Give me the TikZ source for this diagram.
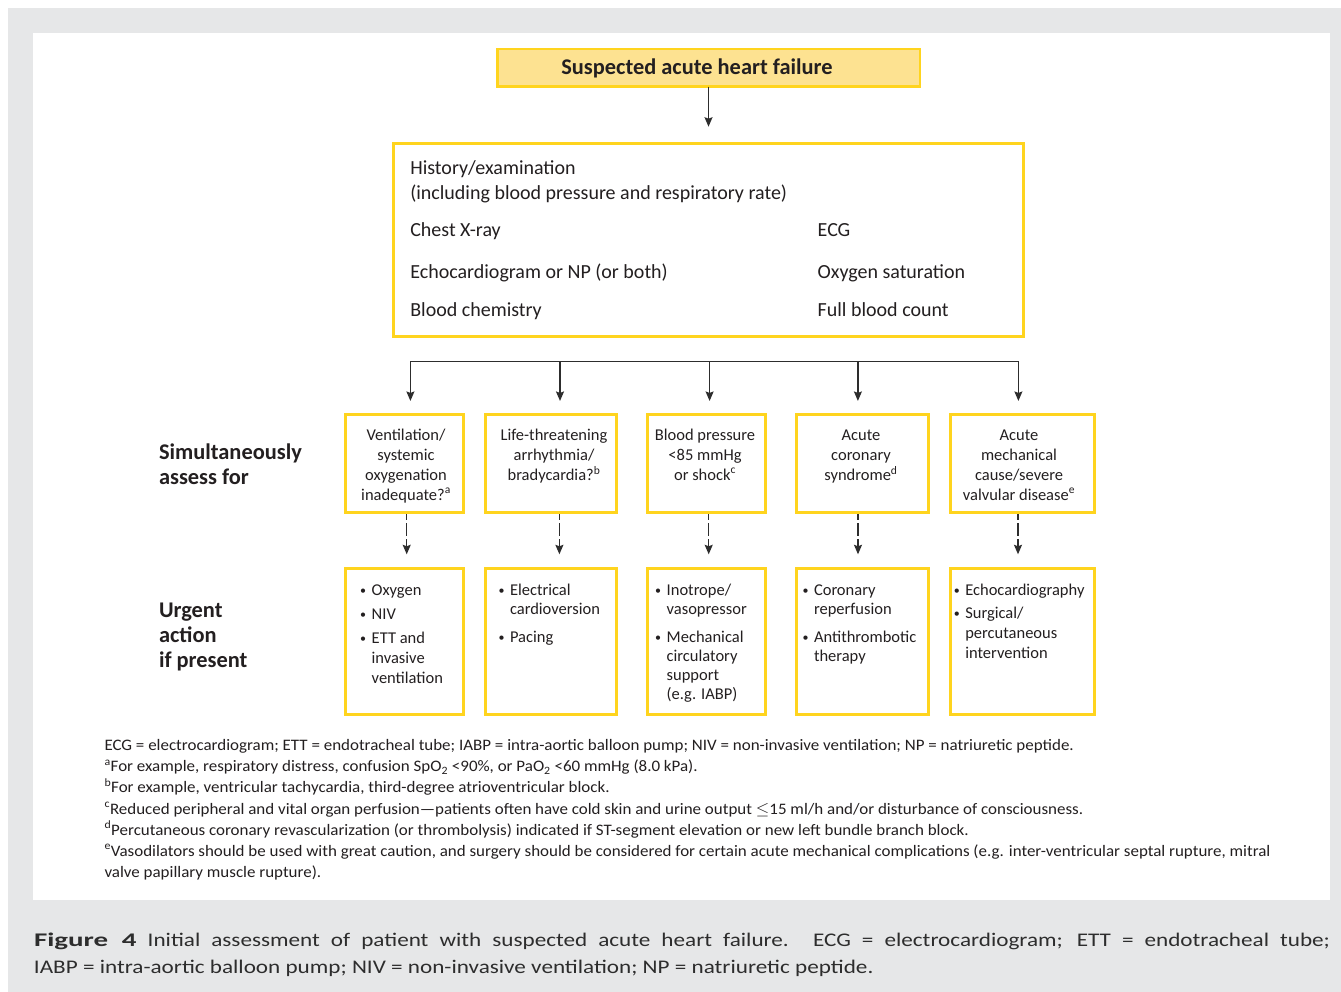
\documentclass[tikz,border=0pt]{standalone}
\usepackage{fontspec}
\setmainfont{Carlito}
\newfontfamily\capfont[FakeStretch=1.2]{Carlito}
\newfontfamily\figfont[FakeStretch=1.5]{Carlito}
\newfontfamily\notefont[FakeStretch=1.06]{Carlito}
\usetikzlibrary{arrows.meta}
\definecolor{ybord}{RGB}{255,212,30}
\definecolor{yfill}{RGB}{253,226,145}
\definecolor{bggray}{RGB}{230,231,232}
\definecolor{ink}{RGB}{35,31,32}
\definecolor{linec}{RGB}{45,45,45}
\definecolor{captc}{RGB}{45,45,45}
\newcommand{\fsz}[2]{\fontsize{#1}{#2}\selectfont}
\newcommand{\ctab}[1]{\begin{tabular}[t]{@{}c@{}}#1\end{tabular}}
\newcommand{\ltab}[1]{\begin{tabular}[t]{@{}l@{}}#1\end{tabular}}
\newcommand{\bul}{\llap{\makebox[17pt][c]{\raisebox{1pt}{\fontsize{12}{12}\selectfont •}}}}
\begin{document}
\begin{tikzpicture}[x=1pt,y=-1pt,
  every node/.style={text=ink, inner sep=0pt, outer sep=0pt},
  ybox/.style={draw=ybord, line width=3pt, fill=white},
  topbox/.style={draw=ybord, line width=2.5pt, fill=yfill},
  conn/.style={draw=linec, line width=1.3pt},
  arr/.style={conn, -{Stealth[length=9.5pt,width=8pt,inset=1.5pt]}},
  darr/.style={arr, dash pattern=on 12.7pt off 3.3pt, dash phase=6.95pt},
  bigtxt/.style={anchor=base west, font=\fsz{20}{24}},
  rowone/.style={anchor=base, font=\fsz{16.5}{20}},
  rowtwo/.style={anchor=base west, font=\fsz{16.5}{19}},
  side/.style={anchor=base west, font=\fsz{22.4}{25}\bfseries},
]
% background
\fill[white] (0,0) rectangle (1341,992);
\fill[bggray] (8,8) rectangle (1341,992);
\fill[white] (33,33) rectangle (1329.5,900);
\useasboundingbox (0,0) rectangle (1341,992);

% top box
\node[topbox, minimum width=422.5pt, minimum height=37.5pt, font=\fsz{22.4}{26}\bfseries] (top) at (708.5,68) {Suspected acute heart failure\hspace*{23pt}};

% examination box
\node[ybox, minimum width=630pt, minimum height=193pt] (exam) at (708.5,240) {};
\node[bigtxt] (t1) at (410.3,174.3) {History/examination};
\node[bigtxt] (t2) at (410.3,200) {(including blood pressure and respiratory rate)};
\node[bigtxt] (t3) at (410.3,236.7) {Chest X-ray};
\node[bigtxt] (t4) at (410.3,278.3) {Echocardiogram or NP (or both)};
\node[bigtxt] (t5) at (410.3,316.7) {Blood chemistry};
\node[bigtxt] (t6) at (817.7,236.7) {ECG};
\node[bigtxt] (t7) at (817.7,278.3) {Oxygen saturation};
\node[bigtxt] (t8) at (817.7,316.7) {Full blood count};

\draw[arr, shorten >=16.8pt] (top.south) -- (exam.north);

% row 1 boxes
\node[ybox, minimum width=118pt, minimum height=98.3pt] (a1) at (404.5,463.6) {};
\node[ybox, minimum width=131pt, minimum height=98.3pt] (a2) at (551,463.6) {};
\node[ybox, minimum width=118pt, minimum height=98.3pt] (a3) at (706.5,463.6) {};
\node[ybox, minimum width=132pt, minimum height=98.3pt] (a4) at (862.5,463.6) {};
\node[ybox, minimum width=144pt, minimum height=98.3pt] (a5) at (1022.5,463.6) {};

\node[rowone] (a1t) at (406,440) {\ctab{Ventilation/\\ systemic\\ oxygenation\\ inadequate?\textsuperscript{a}}};
\node[rowone] (a2t) at (554,440) {\ctab{Life-threatening\\ arrhythmia/\\ bradycardia?\textsuperscript{b}}};
\node[rowone] (a3t) at (705,440) {\ctab{Blood pressure\\ <85 mmHg\\ or shock\textsuperscript{c}}};
\node[rowone] (a4t) at (861,440) {\ctab{Acute\\ coronary\\ syndrome\textsuperscript{d}}};
\node[rowone] (a5t) at (1019,440) {\ctab{Acute\\ mechanical\\ cause/severe\\ valvular disease\textsuperscript{e}}};

% row 2 boxes
\node[ybox, minimum width=118pt, minimum height=146pt] (b1) at (404.5,641.5) {};
\node[ybox, minimum width=131pt, minimum height=146pt] (b2) at (551,641.5) {};
\node[ybox, minimum width=118pt, minimum height=146pt] (b3) at (706.5,641.5) {};
\node[ybox, minimum width=132pt, minimum height=146pt] (b4) at (862.5,641.5) {};
\node[ybox, minimum width=144pt, minimum height=146pt] (b5) at (1022.5,641.5) {};

\node[rowtwo] (b1t) at (371.7,595) {\ltab{\bul Oxygen\\[5pt] \bul NIV\\[5pt] \bul ETT and\\[1pt] invasive\\[1pt] ventilation}};
\node[rowtwo] (b2t) at (510,595) {\ltab{\bul Electrical\\ cardioversion\\[9.7pt] \bul Pacing}};
\node[rowtwo] (b3t) at (666.7,595) {\ltab{\bul Inotrope/\\ vasopressor\\[9.7pt] \bul Mechanical\\ circulatory\\ support\\ (e.g. IABP)}};
\node[rowtwo] (b4t) at (814,595) {\ltab{\bul Coronary\\ reperfusion\\[9.7pt] \bul Antithrombotic\\ therapy}};
\node[rowtwo] (b5t) at (965.3,595) {\ltab{\bul Echocardiography\\[4.3pt] \bul Surgical/\\[1pt] percutaneous\\[1pt] intervention}};

% bus and arrows
\coordinate (j1) at (410.4,361.5);
\coordinate (j2) at (560,361.5);
\coordinate (j3) at (709.6,361.5);
\coordinate (j4) at (857.9,361.5);
\coordinate (j5) at (1018.4,361.5);
\draw[conn, line cap=rect] (j1) -- (j5);
\foreach \i in {1,...,5}{
  \draw[arr, shorten >=13.5pt] (j\i) -- (j\i |- a\i.north);
}

% dashed arrows
\coordinate (dx1) at (406.7,540);
\coordinate (dx2) at (559.4,540);
\coordinate (dx3) at (708.7,540);
\coordinate (dx4) at (858,540);
\coordinate (dx5) at (1018,540);
\foreach \i in {1,...,5}{
  \draw[darr, shorten <=1.5pt, shorten >=14.2pt] (a\i.south -| dx\i) -- (b\i.north -| dx\i);
}

% side labels
\node[side] (s1) at (159,459) {\ltab{Simultaneously\\ assess for}};
\node[side] (s2) at (159,617) {\ltab{Urgent\\ action\\ if present}};

% footnotes
\node[anchor=base west, font=\notefont\fsz{16}{21.1}] (notes) at (104.5,750.7) {\ltab{%
ECG = electrocardiogram; ETT = endotracheal tube; IABP = intra-aortic balloon pump; NIV = non-invasive ventilation; NP = natriuretic peptide.\\
\textsuperscript{a}For example, respiratory distress, confusion SpO\textsubscript{2} <90\%, or PaO\textsubscript{2} <60 mmHg (8.0 kPa).\\
\textsuperscript{b}For example, ventricular tachycardia, third-degree atrioventricular block.\\
\textsuperscript{c}Reduced peripheral and vital organ perfusion—patients often have cold skin and urine output $\leq$15 ml/h and/or disturbance of consciousness.\\
\textsuperscript{d}Percutaneous coronary revascularization (or thrombolysis) indicated if ST-segment elevation or new left bundle branch block.\\
\textsuperscript{e}Vasodilators should be used with great caution, and surgery should be considered for certain acute mechanical complications (e.g. inter-ventricular septal rupture, mitral\\
valve papillary muscle rupture).}};

% caption
\node[anchor=base west, text=captc, font=\capfont\fsz{19.3}{27}] (cap) at (34,946) {\parbox[t]{1296pt}{{\figfont\bfseries Figure 4} Initial assessment of patient with suspected acute heart failure. ECG = electrocardiogram; ETT = endotracheal tube;\linebreak IABP = intra-aortic balloon pump; NIV = non-invasive ventilation; NP = natriuretic peptide.}};
\end{tikzpicture}
\end{document}
